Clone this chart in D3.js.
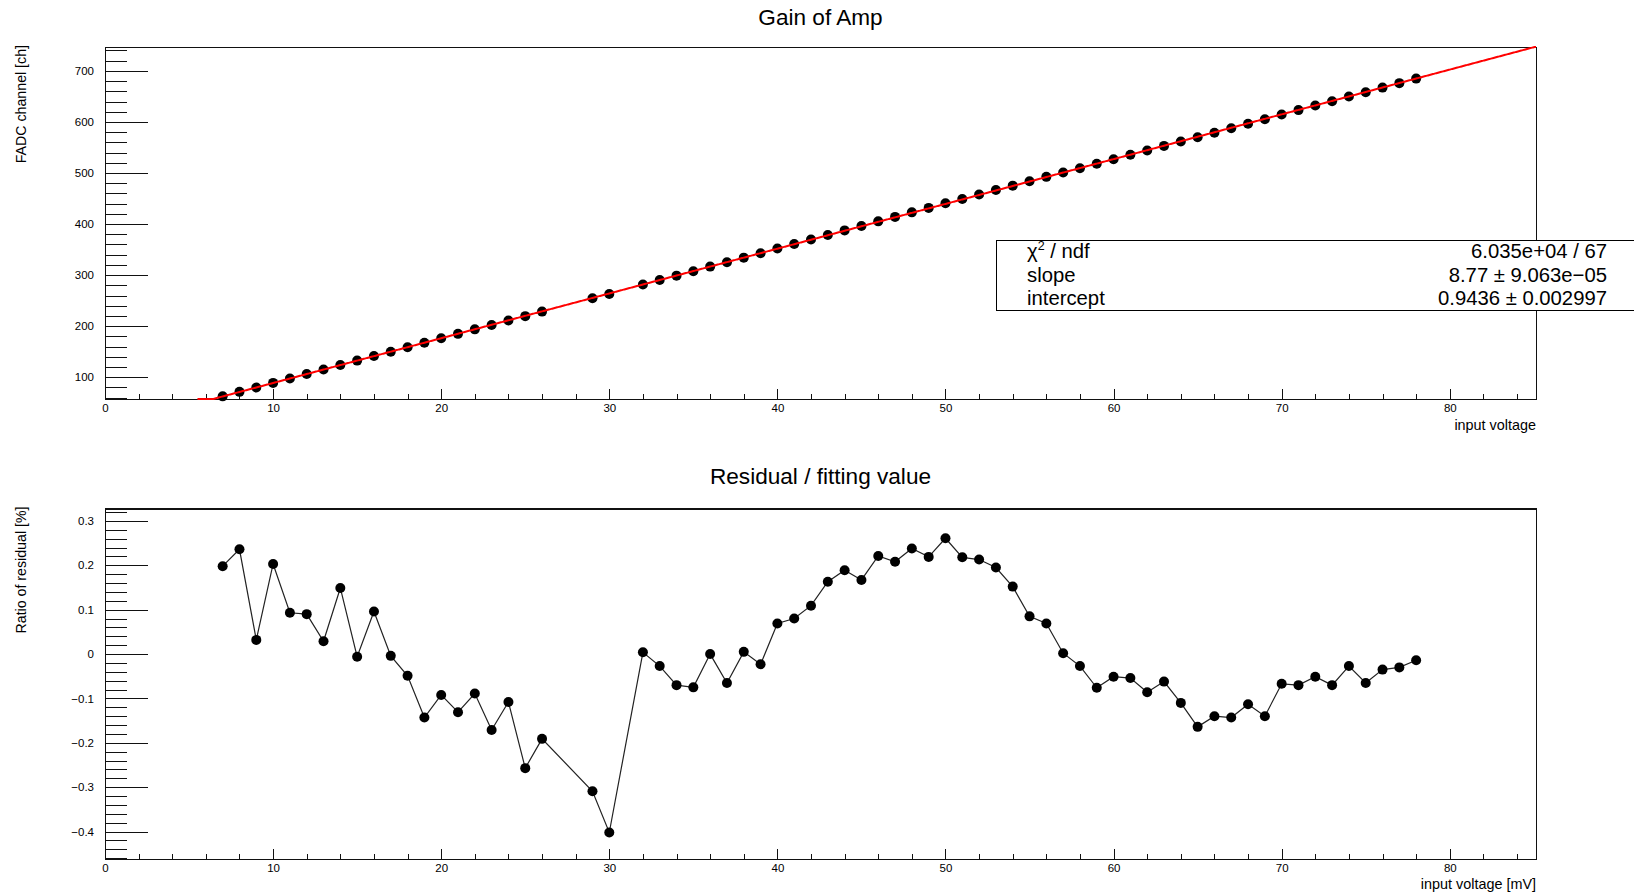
<!DOCTYPE html>
<html>
<head>
<meta charset="utf-8">
<script src="https://cdn.jsdelivr.net/npm/d3@7"></script>
<style>
  body { margin: 0; background: #fff; }
  svg { display: block; }
  text { font-family: "Liberation Sans", Arial, Helvetica, sans-serif; fill: #000; }
</style>
</head>
<body>
<svg id="chart" width="1634" height="894"></svg>
<script>
// ---- measurement data -------------------------------------------------------
// input voltage [mV] of each calibration point
const inputVoltage = [
  7, 8, 9, 10, 11, 12, 13, 14, 15, 16, 17, 18, 19, 20, 21, 22, 23, 24, 25, 26,
  29, 30,
  32, 33, 34, 35, 36, 37, 38, 39, 40, 41, 42, 43, 44, 45, 46, 47, 48, 49, 50,
  51, 52, 53, 54, 55, 56, 57, 58, 59, 60, 61, 62, 63, 64, 65, 66, 67, 68, 69,
  70, 71, 72, 73, 74, 75, 76, 77, 78
];

// measured FADC channel
const fadcChannel = [
  62.45, 71.27, 79.90, 88.82, 97.50, 106.28, 114.98, 123.90, 132.48, 141.40,
  150.02, 158.72, 167.33, 176.18, 184.87, 193.71, 202.30, 211.19, 219.62, 228.52,
  254.48, 262.98,
  281.59, 290.27, 298.91, 307.66, 316.66, 325.22, 334.22, 342.89, 351.98, 360.80,
  369.68, 378.67, 387.55, 396.25, 405.25, 413.99, 422.90, 431.61, 440.59, 449.19,
  457.95, 466.66, 475.24, 483.70, 492.40, 500.84, 509.46, 517.98, 526.87, 535.62,
  544.21, 553.11, 561.60, 570.05, 578.95, 587.69, 596.63, 605.22, 614.43, 623.17,
  632.06, 640.70, 649.74, 658.26, 667.23, 676.03, 684.91
];

// (data - fit) / fit  [%]
const residualRatio = [
  0.198, 0.236, 0.032, 0.203, 0.093, 0.090, 0.029, 0.149, -0.006, 0.096,
  -0.004, -0.049, -0.143, -0.092, -0.131, -0.089, -0.171, -0.108, -0.257, -0.191,
  -0.309, -0.402,
  0.004, -0.027, -0.070, -0.075, 0.000, -0.065, 0.005, -0.023, 0.069, 0.080,
  0.109, 0.163, 0.189, 0.167, 0.221, 0.208, 0.238, 0.219, 0.261, 0.218,
  0.213, 0.195, 0.152, 0.085, 0.069, 0.002, -0.027, -0.076, -0.051, -0.054,
  -0.086, -0.062, -0.110, -0.164, -0.140, -0.143, -0.113, -0.140, -0.067, -0.070,
  -0.051, -0.070, -0.027, -0.065, -0.035, -0.030, -0.014
];

// linear fit result (pol1)
const fitSlope = 8.77;
const fitIntercept = 0.9436;
const fitRange = [5.5, 85.13];

const statsLabels = ["χ2 / ndf", "slope", "intercept"];
const statsValues = ["6.035e+04 / 67", "8.77 ± 9.063e−05", "0.9436 ± 0.002997"];

// axis ticks
const voltageTicks = [0, 10, 20, 30, 40, 50, 60, 70, 80];
const voltageMinorTicks = d3.range(0, 85, 2);
const channelTicks = [100, 200, 300, 400, 500, 600, 700];
const channelMinorTicks = d3.range(60, 747, 20);
const residualTicks = [-0.4, -0.3, -0.2, -0.1, 0, 0.1, 0.2, 0.3];
const residualMinorTicks = d3.range(-0.46, 0.33, 0.02);

// ---- layout -----------------------------------------------------------------
const svg = d3.select("#chart");
const frameLeft = 105, frameRight = 1536;

const x = d3.scaleLinear().domain([0, 85.13]).range([frameLeft, frameRight]);

const yGain = d3.scaleLinear().domain([57.3, 746.8]).range([399, 47]);
const yRes = d3.scaleLinear().domain([-0.4617, 0.328]).range([859, 508.5]);

const minusFmt = v => (v < 0 ? "\u2212" : "") + d3.format("")(Math.abs(+v.toFixed(2)));

function drawFrame(y, opts) {
  const top = y.range()[1], bottom = y.range()[0];
  const g = svg.append("g");

  // y axis: long major and shorter minor ticks pointing into the frame
  g.append("g")
    .attr("transform", `translate(${frameLeft},0)`)
    .call(d3.axisLeft(y).tickValues(opts.minor).tickSize(-22).tickFormat(""))
    .call(a => a.select(".domain").remove());
  g.append("g")
    .attr("transform", `translate(${frameLeft},0)`)
    .call(d3.axisLeft(y).tickValues(opts.major).tickSize(-43).tickPadding(11)
      .tickFormat(opts.fmt))
    .call(a => a.select(".domain").remove())
    .call(a => a.selectAll("text").attr("font-size", 11.5));

  // x axis
  g.append("g")
    .attr("transform", `translate(0,${bottom})`)
    .call(d3.axisBottom(x).tickValues(voltageMinorTicks).tickSize(-5).tickFormat(""))
    .call(a => a.select(".domain").remove());
  g.append("g")
    .attr("transform", `translate(0,${bottom})`)
    .call(d3.axisBottom(x).tickValues(voltageTicks).tickSize(-10).tickPadding(5)
      .tickFormat(d3.format("d")))
    .call(a => a.select(".domain").remove())
    .call(a => a.selectAll("text").attr("font-size", 11.5));

  g.selectAll(".tick line").attr("stroke", "#111").attr("shape-rendering", "crispEdges");
  g.selectAll(".tick text").attr("fill", "#111");

  // frame
  g.append("rect")
    .attr("x", frameLeft + 0.5).attr("y", top + 0.5)
    .attr("width", frameRight - frameLeft).attr("height", bottom - top)
    .attr("fill", "none").attr("stroke", "#111").attr("stroke-width", 1.2)
    .attr("shape-rendering", "crispEdges");

  // titles
  svg.append("text")
    .attr("x", (frameLeft + frameRight) / 2).attr("y", opts.titleY)
    .attr("text-anchor", "middle").attr("font-size", 22.6)
    .text(opts.title);
  svg.append("text")
    .attr("transform", `translate(26,${top - 2}) rotate(-90)`)
    .attr("text-anchor", "end").attr("font-size", 14.2)
    .text(opts.yTitle);
  svg.append("text")
    .attr("x", frameRight).attr("y", opts.xTitleY)
    .attr("text-anchor", "end").attr("font-size", 14.4)
    .text(opts.xTitle);
}

// ---- upper pad: gain ---------------------------------------------------------
drawFrame(yGain, {
  major: channelTicks, minor: channelMinorTicks, fmt: d3.format("d"),
  title: "Gain of Amp", titleY: 25,
  yTitle: "FADC channel [ch]",
  xTitle: "input voltage", xTitleY: 430
});

const gainPoints = inputVoltage.map((v, i) => [v, fadcChannel[i]]);

svg.append("g").selectAll("circle")
  .data(gainPoints).join("circle")
  .attr("cx", d => x(d[0])).attr("cy", d => yGain(d[1]))
  .attr("r", 5).attr("fill", "#000");

// fitted line, clipped against the bottom of the frame
const yGainClamped = yGain.copy().clamp(true);
const fitXs = d3.range(fitRange[0], fitRange[1], 0.05).concat([fitRange[1]]);
svg.append("path")
  .datum(fitXs)
  .attr("fill", "none").attr("stroke", "#ff0000").attr("stroke-width", 2)
  .attr("d", d3.line()
    .x(v => x(v))
    .y(v => yGainClamped(fitSlope * v + fitIntercept)));

// statistics box
const stats = svg.append("g");
stats.append("rect")
  .attr("x", 996.5).attr("y", 240.5).attr("width", 700).attr("height", 70)
  .attr("fill", "#fff").attr("stroke", "#000").attr("stroke-width", 1);
statsLabels.forEach((label, i) => {
  const yy = 258 + i * 23.5;
  const t = stats.append("text").attr("x", 1027).attr("y", yy).attr("font-size", 20.3);
  if (label.startsWith("χ2")) {
    t.append("tspan").text("χ");
    t.append("tspan").attr("dy", -8).attr("font-size", 12.5).text("2");
    t.append("tspan").attr("dy", 8).text(" / ndf");
  } else {
    t.text(label);
  }
  stats.append("text").attr("x", 1607).attr("y", yy)
    .attr("text-anchor", "end").attr("font-size", 20.3)
    .text(statsValues[i]);
});

// ---- lower pad: residual ratio ---------------------------------------------------
drawFrame(yRes, {
  major: residualTicks, minor: residualMinorTicks, fmt: minusFmt,
  title: "Residual / fitting value", titleY: 484,
  yTitle: "Ratio of residual [%]",
  xTitle: "input voltage [mV]", xTitleY: 889
});

const resPoints = inputVoltage.map((v, i) => [v, residualRatio[i]]);

svg.append("path")
  .datum(resPoints)
  .attr("fill", "none").attr("stroke", "#222").attr("stroke-width", 1.2)
  .attr("d", d3.line().x(d => x(d[0])).y(d => yRes(d[1])));

svg.append("g").selectAll("circle")
  .data(resPoints).join("circle")
  .attr("cx", d => x(d[0])).attr("cy", d => yRes(d[1]))
  .attr("r", 5).attr("fill", "#000");
</script>
</body>
</html>
